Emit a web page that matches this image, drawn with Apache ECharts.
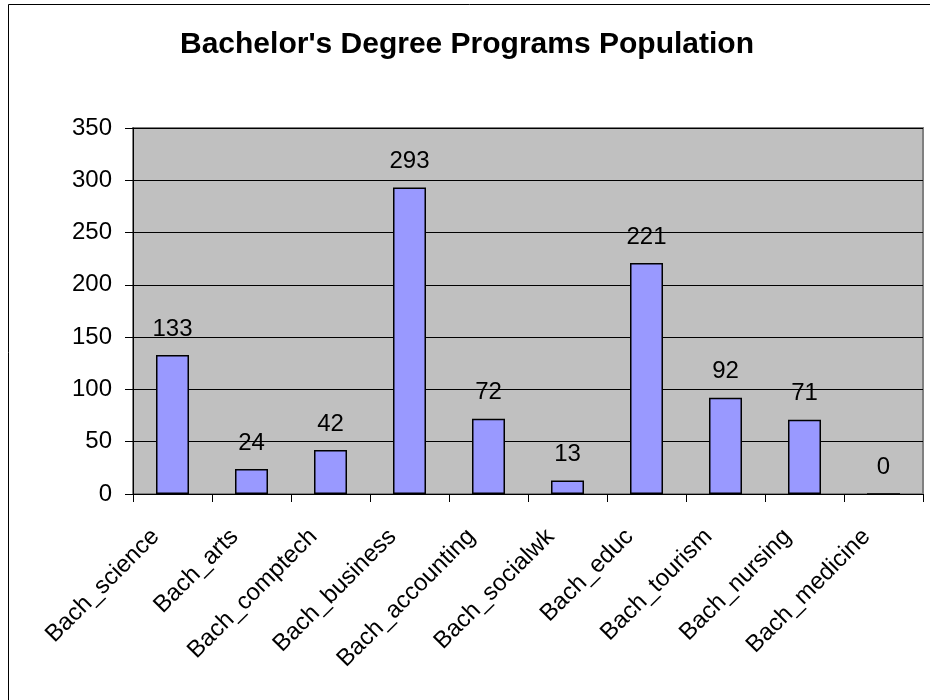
<!DOCTYPE html>
<html>
<head>
<meta charset="utf-8">
<script src="https://cdn.jsdelivr.net/npm/echarts@6/dist/echarts.min.js"></script>
<style>
  html, body { margin: 0; padding: 0; background: #fff; }
  #chart { width: 930px; height: 700px; }
</style>
</head>
<body>
<div id="chart"></div>
<script>
const categories = ['Bach_science', 'Bach_arts', 'Bach_comptech', 'Bach_business', 'Bach_accounting',
  'Bach_socialwk', 'Bach_educ', 'Bach_tourism', 'Bach_nursing', 'Bach_medicine']
const population = [133, 24, 42, 293, 72, 13, 221, 92, 71, 0]
const yMin = 0
const yMax = 350
const yStep = 50

const font = '"Liberation Sans", Arial, sans-serif'
const chart = echarts.init(document.getElementById('chart'))

const option = {
  animation: false,
  backgroundColor: '#fff',
  textStyle: { fontFamily: font },
  title: {
    text: "Bachelor's Degree Programs Population",
    left: 175,
    top: 25,
    textStyle: { fontFamily: font, fontSize: 30, fontWeight: 'bold', color: '#000' }
  },
  graphic: [{
    type: 'rect',
    shape: { x: 8.5, y: 4.5, width: 2000, height: 2000 },
    style: { fill: 'none', stroke: '#000', lineWidth: 1 },
    silent: true
  }],
  grid: {
    left: 133,
    right: 7,
    top: 128,
    bottom: 206,
    show: true,
    backgroundColor: '#c0c0c0',
    borderColor: '#808080',
    borderWidth: 2
  },
  xAxis: {
    type: 'category',
    data: categories,
    axisLine: { lineStyle: { color: '#000', width: 1 } },
    axisTick: { show: true, length: 8, lineStyle: { color: '#000' } },
    axisLabel: {
      rotate: 45,
      margin: 22,
      interval: 0,
      padding: [0, 24, 0, 0],
      fontSize: 24,
      color: '#000',
      fontFamily: font
    },
    splitLine: { show: false }
  },
  yAxis: {
    type: 'value',
    min: yMin,
    max: yMax,
    interval: yStep,
    axisLine: { show: true, lineStyle: { color: '#000', width: 1 } },
    axisTick: { show: true, length: 8, lineStyle: { color: '#000' } },
    axisLabel: { fontSize: 24, color: '#000', margin: 21, fontFamily: font },
    splitLine: { lineStyle: { color: '#000', width: 1 } }
  },
  series: [{
    type: 'bar',
    data: population,
    barWidth: 33,
    itemStyle: {
      color: '#9999ff',
      borderColor: '#000',
      borderWidth: 1.5
    },
    label: {
      show: true,
      position: 'top',
      distance: 14,
      fontSize: 24,
      color: '#000',
      fontFamily: font
    }
  }]
}

chart.setOption(option)
</script>
</body>
</html>
